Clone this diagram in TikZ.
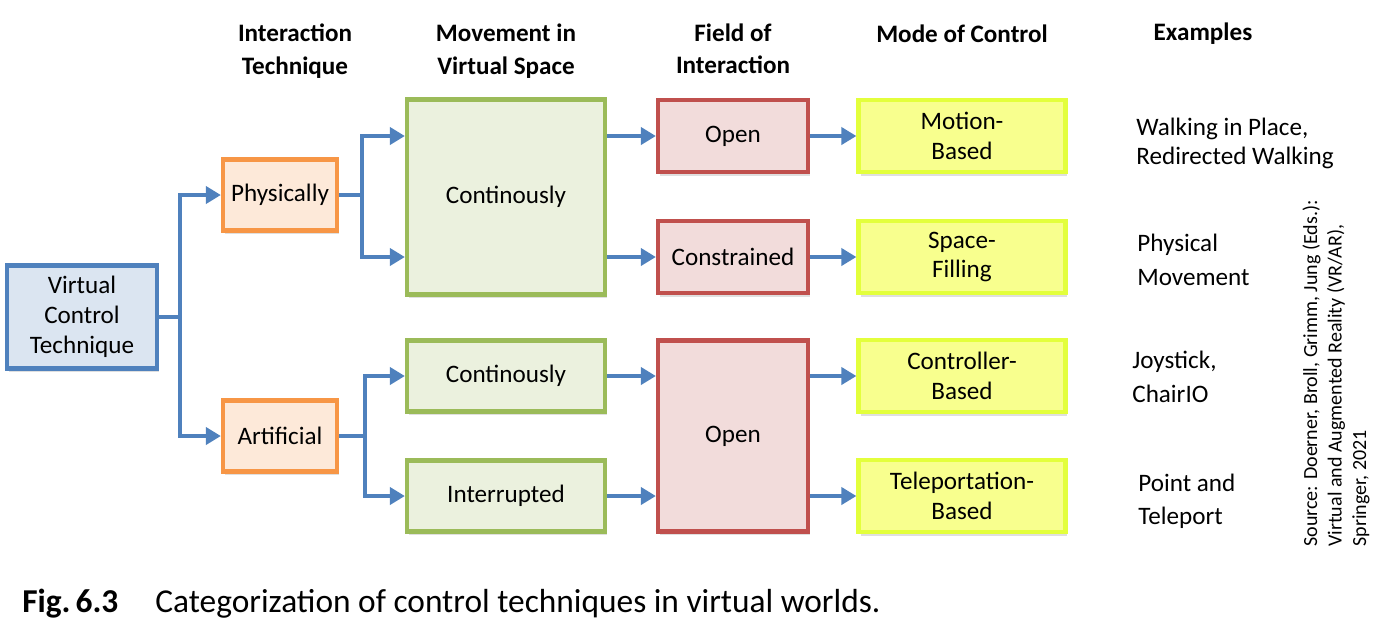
\documentclass[tikz,border=0pt]{standalone}
\usepackage{fontspec}
\setmainfont{Carlito}
\usepackage{xcolor}
\usepackage{tikz}
\usetikzlibrary{arrows.meta,shadows}

\definecolor{vblueline}{HTML}{4F81BD}
\definecolor{vbluefill}{HTML}{DBE5F1}
\definecolor{vorangeline}{HTML}{F79646}
\definecolor{vorangefill}{HTML}{FDE9D9}
\definecolor{vgreenline}{HTML}{9BBB59}
\definecolor{vgreenfill}{HTML}{EBF1DE}
\definecolor{vredline}{HTML}{C0504D}
\definecolor{vredfill}{HTML}{F2DCDB}
\definecolor{vyellowline}{HTML}{E3FF3C}
\definecolor{vyellowfill}{HTML}{F8FF8E}

\tikzset{
  box/.style={draw, line width=0.085cm, align=center, inner sep=2pt,
    font=\fontsize{14.3}{17}\selectfont,
    drop shadow={shadow xshift=0.04cm, shadow yshift=-0.07cm, opacity=0.25}},
  bluebox/.style={box, draw=vblueline, fill=vbluefill, minimum width=3cm, minimum height=2.06cm},
  orangebox/.style={box, draw=vorangeline, fill=vorangefill, minimum width=2.28cm, minimum height=1.42cm},
  greenbox/.style={box, draw=vgreenline, fill=vgreenfill, minimum width=3.96cm, minimum height=1.42cm},
  redbox/.style={box, draw=vredline, fill=vredfill, minimum width=3cm, minimum height=1.44cm},
  yellowbox/.style={box, draw=vyellowline, fill=vyellowfill, minimum width=4.14cm, minimum height=1.44cm},
  head/.style={align=center, inner sep=0pt, font=\fontsize{14.3}{18.5}\selectfont\bfseries},
  example/.style={align=left, anchor=west, inner sep=0pt, font=\fontsize{14.3}{19}\selectfont},
  ln/.style={draw=vblueline, line width=0.095cm},
  conn/.style={ln, -{Triangle[length=0.3cm,width=0.34cm]}}
}

\begin{document}
\begin{tikzpicture}[x=0.02cm, y=-0.02cm]
  \useasboundingbox (0,0) rectangle (1382,627);

  % column headers
  \node[head] (hit) at (295,51) {Interaction\\Technique};
  \node[head] (hmv) at (506,51) {Movement in\\Virtual Space};
  \node[head] (hfi) at (733,49) {Field of\\Interaction};
  \node[head] (hmc) at (962,34) {Mode of Control};
  \node[head] (hex) at (1203,34) {Examples};

  % boxes
  \node[bluebox] (vct) at (82,317) {Virtual\\Control\\Technique};
  \node[orangebox] (phys) at (280,195) {Physically};
  \node[orangebox] (art) at (280,436) {Artificial};
  \node[greenbox, minimum height=3.9cm] (contp) at (506,197) {Continously};
  \node[greenbox] (conta) at (506,376) {Continously};
  \node[greenbox] (intr) at (506,496) {Interrupted};
  \node[redbox] (opnp) at (733,136) {Open};
  \node[redbox] (cons) at (733,257) {Constrained};
  \node[redbox, minimum height=3.82cm] (opna) at (733,436) {Open};
  \node[yellowbox] (mot) at (962,136) {Motion-\\Based};
  \node[yellowbox] (spf) at (962,257) {Space-\\Filling};
  \node[yellowbox] (ctl) at (962,376) {Controller-\\Based};
  \node[yellowbox] (tel) at (962,496) {Teleportation-\\Based};

  % examples
  \node[example, font=\fontsize{14.3}{16.5}\selectfont] (ex1) at (1136,143) {Walking in Place,\\Redirected Walking};
  \node[example] (ex2) at (1137,260) {Physical\\Movement};
  \node[example] (ex3) at (1132,377) {Joystick,\\ChairIO};
  \node[example] (ex4) at (1138,501) {Point and\\Teleport};

  % source
  \node[rotate=90, anchor=north west, align=left, inner sep=0pt,
    font=\fontsize{11.4}{14}\selectfont] (src) at (1302,547)
    {Source: Doerner, Broll, Grimm, Jung (Eds.):\\Virtual and Augmented Reality (VR/AR),\\Springer, 2021};

  % caption
  \node[anchor=base west, inner sep=0pt, font=\fontsize{19}{22}\selectfont\bfseries] (fig) at (22,612) {Fig.\hspace{0.15em}6.3};
  \node[anchor=base west, inner sep=0pt, font=\fontsize{19}{22}\selectfont] (cap) at (155,612) {Categorization of control techniques in virtual worlds.};

  % junctions
  \coordinate (jv) at (180,317);
  \coordinate (jp) at (362,195);
  \coordinate (ja) at (365,436);

  \draw[ln] (vct) -- (jv);
  \draw[conn] (jv) |- (phys);
  \draw[conn] (jv) |- (art);

  \draw[ln] (phys) -- (jp);
  \draw[conn] (jp) |- (contp.west |- opnp);
  \draw[conn] (jp) |- (contp.west |- cons);

  \draw[ln] (art) -- (ja);
  \draw[conn] (ja) |- (conta);
  \draw[conn] (ja) |- (intr);

  \draw[conn] (contp.east |- opnp) -- (opnp);
  \draw[conn] (contp.east |- cons) -- (cons);
  \draw[conn] (conta) -- (conta -| opna.west);
  \draw[conn] (intr) -- (intr -| opna.west);

  \draw[conn] (opnp) -- (mot);
  \draw[conn] (cons) -- (spf);
  \draw[conn] (opna.east |- ctl) -- (ctl);
  \draw[conn] (opna.east |- tel) -- (tel);
\end{tikzpicture}
\end{document}
